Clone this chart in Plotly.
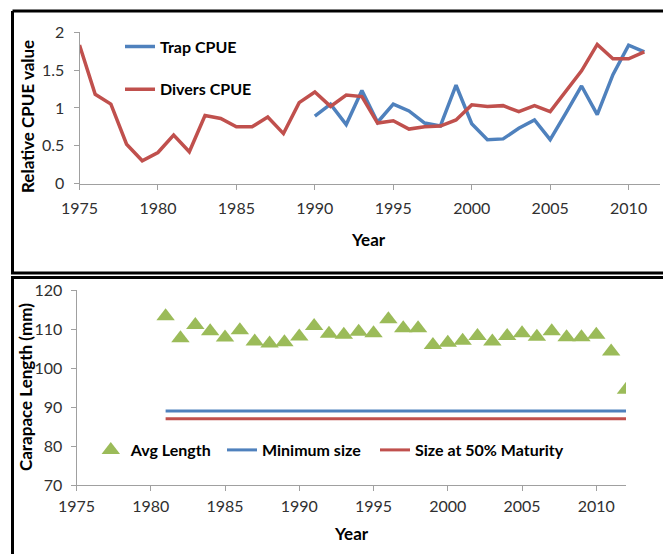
import plotly.graph_objects as go

# ---------------- data ----------------
years_divers = list(range(1975, 2012))
divers_cpue = [1.83, 1.18, 1.05, 0.52, 0.30, 0.41, 0.64, 0.42, 0.90, 0.86,
               0.75, 0.75, 0.88, 0.66, 1.07, 1.21, 1.02, 1.17, 1.15, 0.80,
               0.83, 0.72, 0.75, 0.76, 0.84, 1.04, 1.02, 1.03, 0.95, 1.03,
               0.95, 1.22, 1.49, 1.84, 1.65, 1.65, 1.74]

years_trap = list(range(1990, 2012))
trap_cpue = [0.89, 1.05, 0.78, 1.23, 0.81, 1.05, 0.96, 0.80, 0.76, 1.30,
             0.79, 0.58, 0.59, 0.73, 0.84, 0.58, 0.93, 1.29, 0.91, 1.44,
             1.83, 1.74]

years_len = list(range(1981, 2013))
avg_length = [113.3, 107.6, 111.0, 109.4, 107.8, 109.7, 106.8, 106.3, 106.6, 108.1,
              110.8, 108.8, 108.5, 109.3, 108.9, 112.5, 110.2, 110.2, 105.9, 106.5,
              107.0, 108.2, 106.8, 108.2, 108.9, 108.0, 109.4, 107.9, 107.9, 108.5,
              104.2, 94.4]
min_size_years = [1981, 2012]
min_size = [89, 89]
maturity_years = [1981, 2012]
maturity_size = [87, 87]

top_xticks = [1975, 1980, 1985, 1990, 1995, 2000, 2005, 2010]
top_yticks = [0, 0.5, 1, 1.5, 2]
bot_yticks = [70, 80, 90, 100, 110, 120]

BLUE = "#4F81BD"
RED = "#C0504D"
GREEN = "#9BBB59"
FONT = "Lato, Carlito, Calibri, sans-serif"
W, H = 663, 554

def px(x):
    return x / W

def py(y):
    return 1 - y / H

fig = go.Figure()

fig.add_trace(go.Scatter(x=years_trap, y=trap_cpue, mode="lines", name="Trap CPUE",
                         line=dict(color=BLUE, width=3.5), xaxis="x", yaxis="y",
                         legend="legend"))
fig.add_trace(go.Scatter(x=years_divers, y=divers_cpue, mode="lines", name="Divers CPUE",
                         line=dict(color=RED, width=3.5), xaxis="x", yaxis="y",
                         legend="legend2"))

fig.add_trace(go.Scatter(x=years_len, y=avg_length, mode="markers", name="Avg Length",
                         marker=dict(symbol="triangle-up", size=16, color=GREEN),
                         xaxis="x2", yaxis="y2", legend="legend3"))
fig.add_trace(go.Scatter(x=min_size_years, y=min_size, mode="lines", name="Minimum size",
                         line=dict(color=BLUE, width=3), xaxis="x2", yaxis="y2",
                         legend="legend4"))
fig.add_trace(go.Scatter(x=maturity_years, y=maturity_size, mode="lines",
                         name="Size at 50% Maturity",
                         line=dict(color=RED, width=3), xaxis="x2", yaxis="y2",
                         legend="legend5"))

axis_common = dict(showgrid=False, zeroline=False, showline=True, linecolor="#A0A0A0",
                   linewidth=1, ticks="outside", ticklen=5, tickcolor="#A0A0A0",
                   automargin=False,
                   tickfont=dict(family=FONT, size=16, color="#303030"))

leg_font = dict(family=FONT, size=16, color="#000000", weight="bold")
def leg(x, y):
    return dict(x=x, y=y, xanchor="left", yanchor="middle", orientation="h",
                bgcolor="rgba(0,0,0,0)", font=leg_font, itemclick=False,
                itemdoubleclick=False)

fig.update_layout(
    width=W, height=H, margin=dict(l=0, r=0, t=0, b=0, autoexpand=False),
    paper_bgcolor="white", plot_bgcolor="white",
    xaxis=dict(axis_common, domain=[px(79.5), px(660)], range=[1975, 2012],
               tickvals=top_xticks, anchor="y", ticklabelstandoff=5),
    yaxis=dict(axis_common, domain=[py(183.5), py(32.3)], range=[0, 2],
               tickvals=top_yticks, anchor="x", ticklabelstandoff=6),
    xaxis2=dict(axis_common, domain=[px(76.5), px(626)], range=[1975, 2012],
                tickvals=top_xticks, anchor="y2", ticklabelstandoff=2),
    yaxis2=dict(axis_common, domain=[py(485), py(290)], range=[70, 120],
                tickvals=bot_yticks, anchor="x2", ticklabelstandoff=5),
    legend=leg(px(120), py(46.7)),
    legend2=leg(px(120), py(89.3)),
    legend3=leg(px(90.8), py(450)),
    legend4=leg(px(222), py(450)),
    legend5=leg(px(375), py(450)),
    showlegend=True,
)

title_font = dict(family=FONT, size=17, color="#000000", weight="bold")
def title(text, x, y, angle=0):
    fig.add_annotation(text=text, x=px(x), y=py(y), xref="paper", yref="paper",
                       xanchor="center", yanchor="middle", textangle=angle,
                       showarrow=False, font=title_font)

title("Relative CPUE value", 27, 117, -90)
title("Year", 368, 239)
title("Carapace Length (mm)", 25, 387, -90)
title("Year", 351, 533)

# panel frames
frame = dict(color="black", width=3)
for x0, y0, x1, y1 in [(12.5, 11, 663, 11), (12.5, 11, 12.5, 273), (11, 273, 663, 273),
                       (11, 277.5, 663, 277.5), (12.5, 277.5, 12.5, 554)]:
    fig.add_shape(type="line", xref="paper", yref="paper", x0=px(x0), y0=py(y0),
                  x1=px(x1), y1=py(y1), line=frame)

fig.write_html("out.html")
